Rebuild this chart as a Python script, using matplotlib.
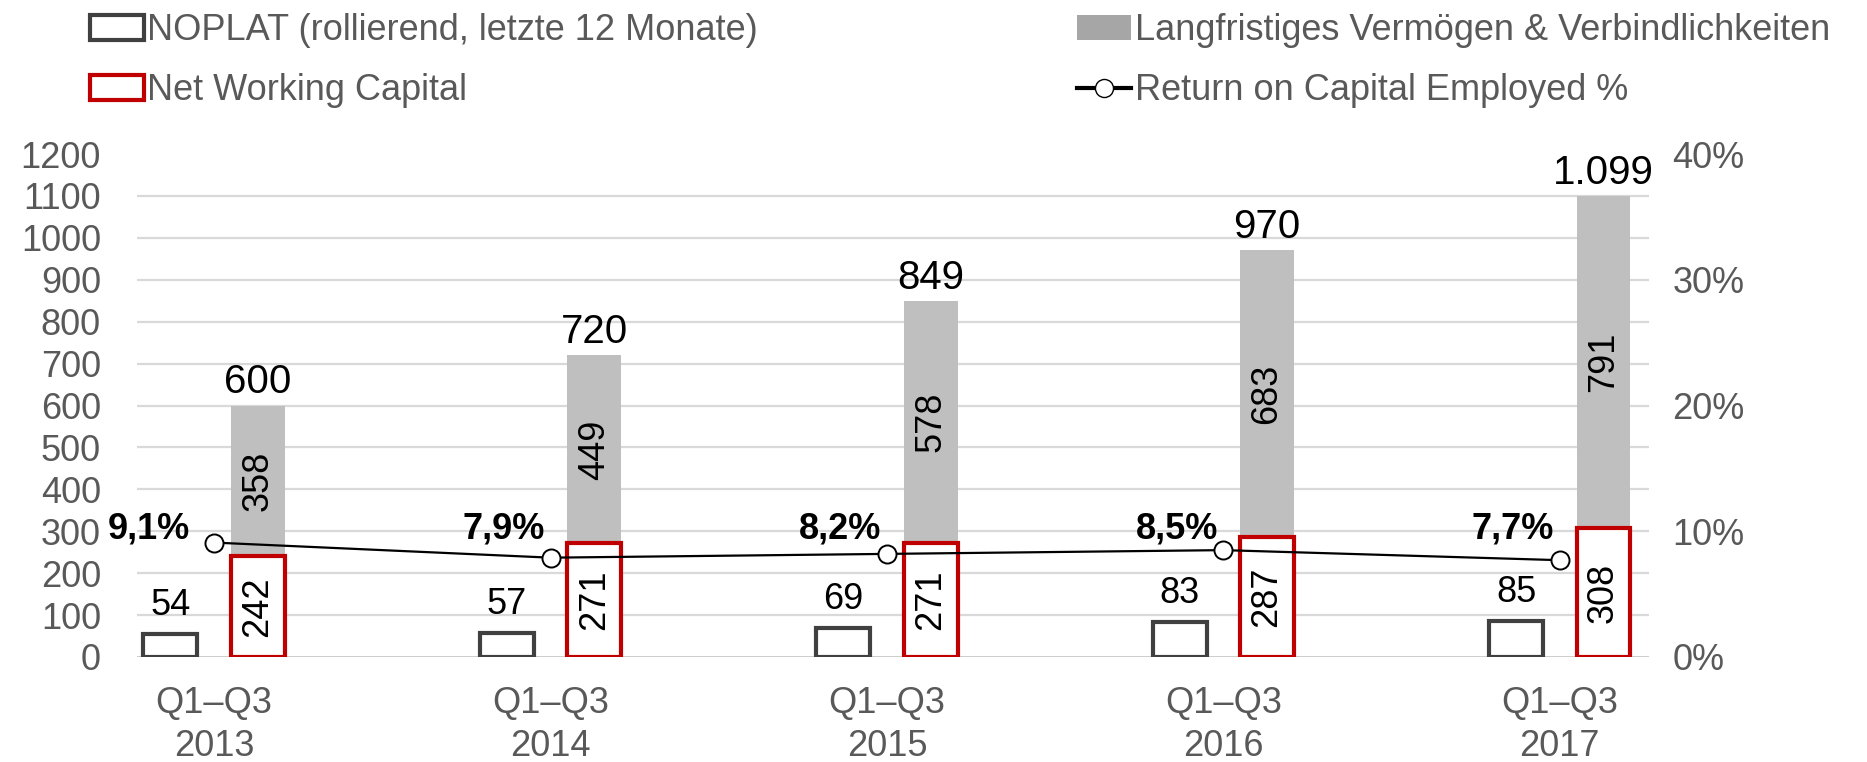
import numpy as np
import matplotlib
matplotlib.use('Agg')
import matplotlib.pyplot as plt
import matplotlib.transforms as mtransforms
from matplotlib.patches import Patch
from matplotlib.lines import Line2D

plt.rcParams['font.family'] = ['Liberation Sans', 'DejaVu Sans']

# Data
categories = ['Q1–Q3\n2013', 'Q1–Q3\n2014', 'Q1–Q3\n2015', 'Q1–Q3\n2016', 'Q1–Q3\n2017']
noplat = [54, 57, 69, 83, 85]
nwc = [242, 271, 271, 287, 308]
langfristig = [358, 449, 578, 683, 791]
roce = [9.1, 7.9, 8.2, 8.5, 7.7]

left_ticks = list(range(0, 1300, 100))
right_ticks = [0, 10, 20, 30, 40]

tick_color = '#595959'
red = '#c00000'
dark = '#404040'
gray_bar = '#bfbfbf'

fig = plt.figure(figsize=(18.67, 7.62), dpi=100)
ax = fig.add_axes([0.0734, 0.1378, 0.8098, 0.660])

x = np.arange(len(categories))
w = 0.16
off = 0.13

# gridlines
for t in left_ticks[1:-1]:
    ax.axhline(t, color='#d9d9d9', lw=1.6, zorder=0)
ax.axhline(0, color='#bfbfbf', lw=1.8, zorder=0)

ax.bar(x - off, noplat, w, facecolor='white', edgecolor=dark, linewidth=3, zorder=2)
ax.bar(x + off, nwc, w, facecolor='white', edgecolor=red, linewidth=3, zorder=3)
ax.bar(x + off, langfristig, w, bottom=nwc, facecolor=gray_bar, edgecolor='none', zorder=2)

# labels
for i in range(len(x)):
    ax.annotate(str(noplat[i]), (x[i] - off, noplat[i]), xytext=(0, 8), textcoords='offset points',
                ha='center', va='bottom', fontsize=26)
    ax.text(x[i] + off, nwc[i] / 2, str(nwc[i]), rotation=90, ha='center', va='center',
            fontsize=26, zorder=5)
    ax.text(x[i] + off, nwc[i] + langfristig[i] / 2, str(langfristig[i]), rotation=90,
            ha='center', va='center', fontsize=26, zorder=5)
    total = nwc[i] + langfristig[i]
    ax.annotate(f'{total:,}'.replace(',', '.'), (x[i] + off, total), xytext=(0, 3),
                textcoords='offset points', ha='center', va='bottom', fontsize=29)

ax.set_xlim(-0.229, 4.265)
ax.set_ylim(0, 1200)
ax.set_yticks(left_ticks)
ax.set_xticks(x)
ax.set_xticklabels(categories, linespacing=1.28)
ax.tick_params(axis='y', length=0, labelsize=26, labelcolor=tick_color, pad=26)
ax.tick_params(axis='x', length=0, labelsize=26, labelcolor=tick_color, pad=21)
for s in ax.spines.values():
    s.set_visible(False)

ax2 = ax.twinx()
ax2.plot(x, roce, color='black', lw=1.6, marker='o', markersize=13,
         markerfacecolor='white', markeredgecolor='black', markeredgewidth=1.4, zorder=6)
# ROCE labels sit on one common line above the markers, just left of each marker
label_level = max(roce) + 0.35
for i in range(len(x)):
    dx = -17 if roce[i] > label_level - 0.6 else -4
    tr = mtransforms.offset_copy(ax2.transData, fig=fig, x=dx, y=0, units='points')
    ax2.text(x[i], label_level, f'{roce[i]:.1f}%'.replace('.', ','), transform=tr,
             ha='right', va='baseline', fontsize=26, fontweight='bold')
ax2.set_ylim(0, 40)
ax2.set_yticks(right_ticks)
ax2.set_yticklabels([f'{t}%' for t in right_ticks])
ax2.tick_params(axis='y', length=0, labelsize=26, labelcolor=tick_color, pad=17)
for s in ax2.spines.values():
    s.set_visible(False)

# legend, two columns
h1 = [Patch(facecolor='white', edgecolor=dark, linewidth=3),
      Patch(facecolor='white', edgecolor=red, linewidth=3)]
l1 = ['NOPLAT (rollierend, letzte 12 Monate)', 'Net Working Capital']
h2 = [Patch(facecolor='#a6a6a6', edgecolor='none'),
      Line2D([], [], color='black', lw=3, marker='o', markersize=13,
             markerfacecolor='white', markeredgecolor='black')]
l2 = ['Langfristiges Vermögen & Verbindlichkeiten', 'Return on Capital Employed %']

for h, l, xpos in [(h1, l1, 0.048), (h2, l2, 0.577)]:
    leg = fig.legend(h, l, loc='upper left', bbox_to_anchor=(xpos, 0.983), frameon=False,
                     fontsize=26, handlelength=1.5, handletextpad=0.1, labelspacing=0.7,
                     borderpad=0, borderaxespad=0)
    for t in leg.get_texts():
        t.set_color(tick_color)

fig.savefig('out.png', dpi=100)
